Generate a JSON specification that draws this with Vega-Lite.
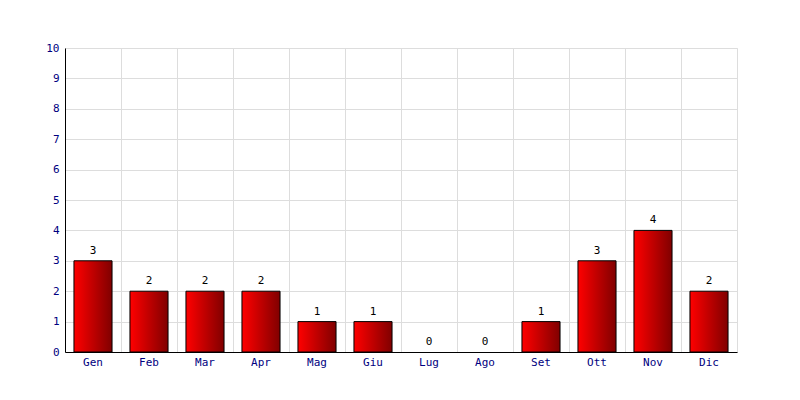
{
  "$schema": "https://vega.github.io/schema/vega-lite/v6.json",
  "width": 672,
  "height": 304,
  "autosize": "none",
  "padding": {"left": 65, "top": 48, "right": 63, "bottom": 48},
  "background": "white",
  "config": {
    "view": {"stroke": "#dddddd"},
    "font": "DejaVu Sans Mono",
    "axis": {"labelFont": "DejaVu Sans Mono", "labelFontSize": 11, "labelColor": "#000080", "gridColor": "#dddddd", "gridOpacity": 1, "domainColor": "black", "ticks": false}
  },
  "data": {"values": [
    {"m": "Gen", "v": 3}, {"m": "Feb", "v": 2}, {"m": "Mar", "v": 2}, {"m": "Apr", "v": 2},
    {"m": "Mag", "v": 1}, {"m": "Giu", "v": 1}, {"m": "Lug", "v": 0}, {"m": "Ago", "v": 0},
    {"m": "Set", "v": 1}, {"m": "Ott", "v": 3}, {"m": "Nov", "v": 4}, {"m": "Dic", "v": 2}
  ]},
  "encoding": {
    "x": {"field": "m", "type": "nominal", "title": null,
      "sort": ["Gen", "Feb", "Mar", "Apr", "Mag", "Giu", "Lug", "Ago", "Set", "Ott", "Nov", "Dic"],
      "scale": {"paddingInner": 0, "paddingOuter": 0},
      "axis": {"labelAngle": 0, "grid": true, "bandPosition": 0, "labelPadding": 4, "domainWidth": 1}},
    "y": {"field": "v", "type": "quantitative", "title": null,
      "scale": {"domain": [0, 10], "nice": false},
      "axis": {"values": [0,1,2,3,4,5,6,7,8,9,10], "grid": true, "labelPadding": 6}}
  },
  "layer": [
    {"transform": [{"filter": "datum.v > 0"}],
      "mark": {"type": "bar", "width": {"band": 0.68}, "stroke": "black", "strokeWidth": 1,
      "color": {"gradient": "linear", "x1": 0, "x2": 1, "y1": 0, "y2": 0,
        "stops": [{"offset": 0, "color": "#ff0000"}, {"offset": 1, "color": "#800000"}]}}},
    {"mark": {"type": "text", "baseline": "bottom", "dy": -5, "fontSize": 11, "font": "DejaVu Sans Mono", "color": "black"},
      "encoding": {"text": {"field": "v", "type": "quantitative"}}}
  ]
}
